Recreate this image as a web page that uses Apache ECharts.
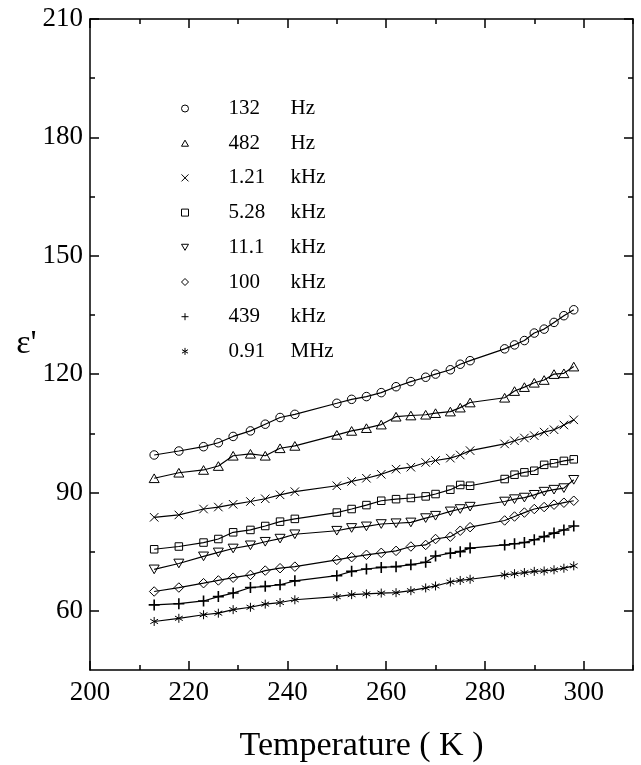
<!DOCTYPE html>
<html>
<head>
<meta charset="utf-8">
<script src="https://cdn.jsdelivr.net/npm/echarts@6/dist/echarts.min.js"></script>
<style>
html,body{margin:0;padding:0;background:#fff;}
#chart{width:641px;height:765px;}
</style>
</head>
<body>
<div id="chart"></div>
<script>
// Temperature (K)
const temps = [213, 218, 223, 226, 229, 232.5, 235.5, 238.5, 241.5, 250, 253, 256, 259, 262, 265, 268, 270, 273, 275, 277, 284, 286, 288, 290, 292, 294, 296, 298];
// epsilon' values per frequency
const eps132Hz = [99.5, 100.5, 101.6, 102.6, 104.2, 105.6, 107.3, 109.0, 109.8, 112.6, 113.6, 114.3, 115.3, 116.8, 118.1, 119.2, 120.0, 121.1, 122.5, 123.4, 126.4, 127.4, 128.5, 130.4, 131.4, 133.1, 134.8, 136.3];
const eps482Hz = [93.6, 95.0, 95.7, 96.7, 99.3, 99.8, 99.3, 101.2, 101.8, 104.6, 105.6, 106.3, 107.2, 109.2, 109.5, 109.7, 110.1, 110.5, 111.5, 112.8, 114.0, 115.7, 116.7, 117.8, 118.5, 120.0, 120.2, 121.9];
const eps1k21 = [83.7, 84.3, 85.8, 86.3, 87.0, 87.7, 88.4, 89.4, 90.2, 91.7, 92.8, 93.6, 94.6, 95.9, 96.4, 97.6, 98.1, 98.7, 99.5, 100.6, 102.3, 103.1, 103.8, 104.4, 105.3, 105.9, 107.1, 108.4];
const eps5k28 = [75.6, 76.3, 77.3, 78.2, 79.9, 80.5, 81.5, 82.6, 83.3, 84.9, 85.8, 86.8, 87.9, 88.3, 88.6, 89.0, 89.6, 90.7, 91.9, 91.7, 93.4, 94.5, 95.1, 95.5, 97.0, 97.4, 98.0, 98.4];
const eps11k1 = [70.5, 72.0, 73.8, 74.8, 75.8, 76.6, 77.5, 78.3, 79.4, 80.3, 81.0, 81.4, 82.0, 82.2, 82.4, 83.5, 84.1, 85.2, 85.8, 86.4, 87.7, 88.3, 88.7, 89.4, 90.2, 90.7, 91.1, 93.2];
const eps100k = [64.9, 65.9, 67.0, 67.7, 68.4, 69.1, 70.2, 70.8, 71.2, 72.9, 73.6, 74.2, 74.7, 75.2, 76.3, 76.7, 78.2, 78.8, 80.3, 81.2, 82.9, 83.9, 84.9, 85.8, 86.3, 86.9, 87.4, 87.9];
const eps439k = [61.5, 61.8, 62.5, 63.6, 64.5, 65.9, 66.2, 66.6, 67.6, 68.9, 70.0, 70.6, 71.0, 71.2, 71.7, 72.3, 73.9, 74.6, 75.0, 75.9, 76.7, 77.0, 77.3, 78.0, 78.8, 79.7, 80.5, 81.5];
const eps910k = [57.3, 58.1, 59.0, 59.4, 60.3, 60.9, 61.7, 62.1, 62.8, 63.6, 64.1, 64.3, 64.5, 64.6, 65.1, 65.8, 66.3, 67.3, 67.7, 68.0, 69.1, 69.4, 69.7, 70.0, 70.1, 70.4, 70.8, 71.4];

const freqValues = ['132', '482', '1.21', '5.28', '11.1', '100', '439', '0.91'];
const freqUnits = ['Hz', 'Hz', 'kHz', 'kHz', 'kHz', 'kHz', 'kHz', 'MHz'];
const seriesValues = [eps132Hz, eps482Hz, eps1k21, eps5k28, eps11k1, eps100k, eps439k, eps910k];

// axis ticks
const xMajorTicks = [200, 220, 240, 260, 280, 300];
const xMinorTicks = [210, 230, 250, 270, 290, 310];
const yMajorTicks = [60, 90, 120, 150, 180, 210];
const yMinorTicks = [75, 105, 135, 165, 195];

const symbols = [
  {symbol: 'circle', size: 8.5, bw: 1},
  {symbol: 'path://M5,0L10,8.66L0,8.66Z', size: 10, bw: 1},
  {symbol: 'path://M0,0L10,10M10,0L0,10', size: 8.5, bw: 1},
  {symbol: 'rect', size: 7.5, bw: 1},
  {symbol: 'path://M0,0L10,0L5,8.66Z', size: 10, bw: 1},
  {symbol: 'path://M5,0L10,5L5,10L0,5Z', size: 9.5, bw: 1},
  {symbol: 'path://M5,0L5,10M0,5L10,5', size: 11, bw: 1.6},
  {symbol: 'path://M5,0L5,10M0.67,2.5L9.33,7.5M9.33,2.5L0.67,7.5', size: 9, bw: 1}
];
const legendSymbols = [
  {symbol: 'circle'},
  {symbol: 'path://M5,0L10,8.66L0,8.66Z'},
  {symbol: 'path://M0,0L10,10M10,0L0,10'},
  {symbol: 'rect'},
  {symbol: 'path://M0,0L10,0L5,8.66Z'},
  {symbol: 'path://M5,0L10,5L5,10L0,5Z'},
  {symbol: 'path://M5,0L5,10M0,5L10,5'},
  {symbol: 'path://M5,0L5,10M0.67,2.5L9.33,7.5M9.33,2.5L0.67,7.5'}
];

const FONT = "'Liberation Serif', 'Times New Roman', serif";
const names = freqValues.map((v, i) => v + ' ' + freqUnits[i]);

const series = seriesValues.map((vals, i) => ({
  name: names[i],
  type: 'line',
  xAxisIndex: 0,
  yAxisIndex: 0,
  data: vals.map((v, j) => [temps[j], v]),
  symbol: symbols[i].symbol,
  symbolSize: symbols[i].size,
  symbolKeepAspect: true,
  showSymbol: true,
  lineStyle: {color: '#000', width: 1.2},
  itemStyle: {color: 'rgba(0,0,0,0)', borderColor: '#000', borderWidth: symbols[i].bw},
  emphasis: {disabled: true},
  animation: false,
  z: 3
}));

function xAxisDef(pos, ticks, len, showLine, labels) {
  return {
    type: 'value', position: pos, min: 200, max: 310,
    axisLine: {show: showLine, onZero: false, lineStyle: {color: '#000', width: 1.5}},
    axisTick: {show: true, inside: true, length: len, customValues: ticks, lineStyle: {color: '#000', width: 1.5}},
    axisLabel: labels ? {show: true, customValues: ticks, margin: 9, color: '#000', fontFamily: FONT, fontSize: 27} : {show: false},
    splitLine: {show: false}
  };
}
function yAxisDef(pos, ticks, len, showLine, labels) {
  return {
    type: 'value', position: pos, min: 45, max: 210,
    axisLine: {show: showLine, onZero: false, lineStyle: {color: '#000', width: 1.5}},
    axisTick: {show: true, inside: true, length: len, customValues: ticks, lineStyle: {color: '#000', width: 1.5}},
    axisLabel: labels ? {show: true, customValues: ticks, margin: 7, color: '#000', fontFamily: FONT, fontSize: 27} : {show: false},
    splitLine: {show: false}
  };
}

const xAxes = [
  Object.assign(xAxisDef('bottom', xMajorTicks, 9, true, true), {
    name: 'Temperature ( K )', nameLocation: 'middle', nameGap: 59,
    nameTextStyle: {color: '#000', fontFamily: FONT, fontSize: 34}
  }),
  xAxisDef('bottom', xMinorTicks, 5, false, false),
  xAxisDef('top', xMajorTicks, 9, true, false),
  xAxisDef('top', xMinorTicks, 5, false, false)
];
const yAxes = [
  Object.assign(yAxisDef('left', yMajorTicks, 9, true, true), {
    name: "ε'", nameLocation: 'middle', nameRotate: 0, nameGap: 52,
    nameTextStyle: {color: '#000', fontFamily: FONT, fontSize: 34, padding: [0, 0, 8, 0]}
  }),
  yAxisDef('left', yMinorTicks, 5, false, false),
  yAxisDef('right', yMajorTicks, 9, true, false),
  yAxisDef('right', yMinorTicks, 5, false, false)
];

const chart = echarts.init(document.getElementById('chart'), null, {renderer: 'canvas'});
chart.setOption({
  backgroundColor: '#fff',
  animation: false,
  grid: {left: 90, right: 8, top: 19, bottom: 95, containLabel: false, outerBoundsMode: 'none'},
  xAxis: xAxes,
  yAxis: yAxes,
  legend: {
    orient: 'vertical',
    left: 176,
    top: 93,
    itemWidth: 7,
    itemHeight: 7,
    itemGap: 13.7,
    selectedMode: false,
    data: names.map((n, i) => ({name: n, icon: legendSymbols[i].symbol})),
    itemStyle: {color: 'rgba(0,0,0,0)', borderColor: '#000', borderWidth: 1},
    formatter: function (name) {
      const i = names.indexOf(name);
      return '{n|' + freqValues[i] + '}{u|' + freqUnits[i] + '}';
    },
    textStyle: {
      color: '#000', fontFamily: FONT, fontSize: 21, lineHeight: 20,
      rich: {
        n: {fontFamily: FONT, fontSize: 21, width: 62, padding: [0, 0, 0, 35], color: '#000'},
        u: {fontFamily: FONT, fontSize: 21, color: '#000'}
      }
    }
  },
  series: series
});
</script>
</body>
</html>
